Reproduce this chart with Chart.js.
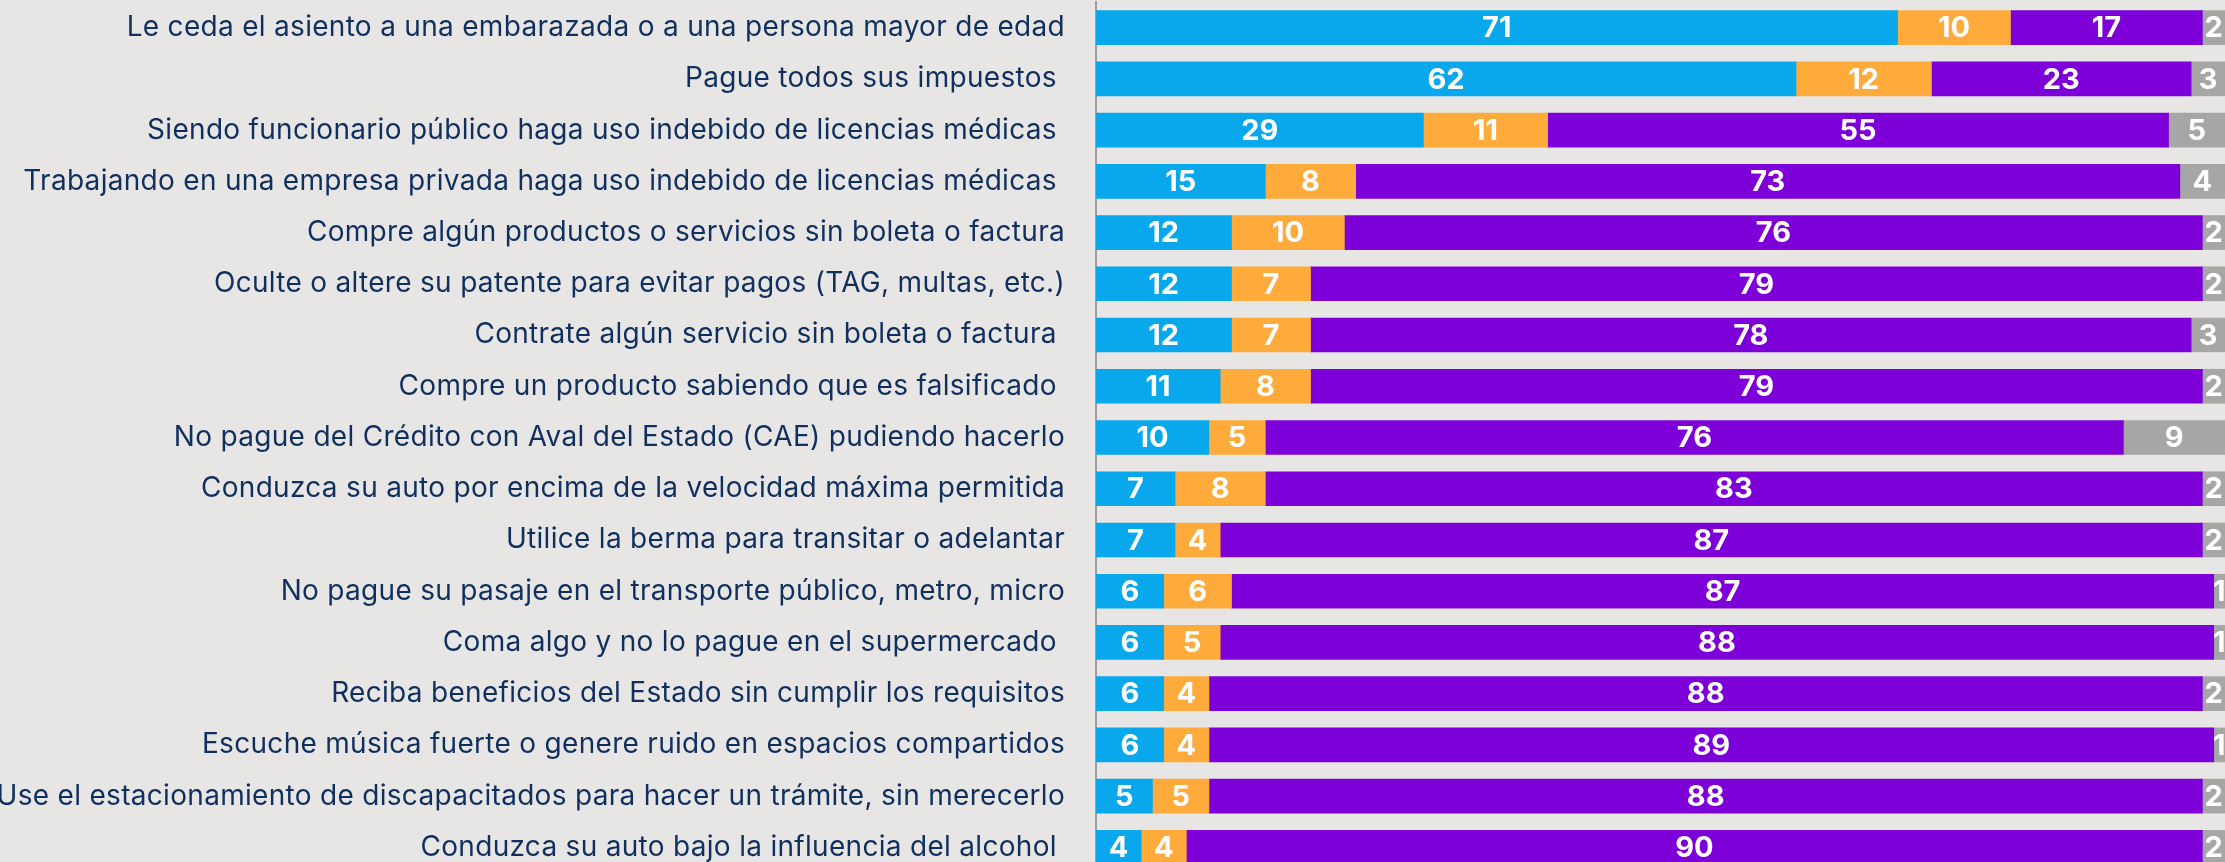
<!DOCTYPE html>
<html>
<head>
<meta charset="utf-8">
<script src="https://cdn.jsdelivr.net/npm/chart.js@4.4.1/dist/chart.umd.min.js"></script>
<style>
  html, body { margin: 0; padding: 0; background: #e8e6e4; overflow: hidden; }
  #wrap { position: relative; width: 2225px; height: 875px; }
</style>
</head>
<body>
<div id="wrap"><canvas id="myChart"></canvas></div>
<script>
  const labels = [
    'Le ceda el asiento a una embarazada o a una persona mayor de edad',
    'Pague todos sus impuestos ',
    'Siendo funcionario público haga uso indebido de licencias médicas ',
    'Trabajando en una empresa privada haga uso indebido de licencias médicas ',
    'Compre algún productos o servicios sin boleta o factura',
    'Oculte o altere su patente para evitar pagos (TAG, multas, etc.)',
    'Contrate algún servicio sin boleta o factura ',
    'Compre un producto sabiendo que es falsificado ',
    'No pague del Crédito con Aval del Estado (CAE) pudiendo hacerlo',
    'Conduzca su auto por encima de la velocidad máxima permitida',
    'Utilice la berma para transitar o adelantar',
    'No pague su pasaje en el transporte público, metro, micro',
    'Coma algo y no lo pague en el supermercado ',
    'Reciba beneficios del Estado sin cumplir los requisitos',
    'Escuche música fuerte o genere ruido en espacios compartidos',
    'Use el estacionamiento de discapacitados para hacer un trámite, sin merecerlo',
    'Conduzca su auto bajo la influencia del alcohol '
  ];

  const serieAzul    = [71, 62, 29, 15, 12, 12, 12, 11, 10, 7, 7, 6, 6, 6, 6, 5, 4];
  const serieNaranja = [10, 12, 11, 8, 10, 7, 7, 8, 5, 8, 4, 6, 5, 4, 4, 5, 4];
  const serieMorada  = [17, 23, 55, 73, 76, 79, 78, 79, 76, 83, 87, 87, 88, 88, 89, 88, 90];
  const serieGris    = [2, 3, 5, 4, 2, 2, 3, 2, 9, 2, 2, 1, 1, 2, 1, 2, 2];

  // un poco de espacio entre letras para las etiquetas del eje
  const espaciado = {
    id: 'espaciado',
    beforeDraw(chart) { chart.ctx.letterSpacing = '0.3px'; },
    beforeDatasetsDraw(chart) { chart.ctx.letterSpacing = '0px'; }
  };

  const etiquetasValor = {
    id: 'etiquetasValor',
    afterDatasetsDraw(chart) {
      const ctx = chart.ctx;
      ctx.save();
      ctx.fillStyle = '#ffffff';
      ctx.font = 'bold 29px Inter';
      ctx.textAlign = 'center';
      ctx.textBaseline = 'middle';
      chart.data.datasets.forEach((ds, i) => {
        const meta = chart.getDatasetMeta(i);
        meta.data.forEach((bar, j) => {
          const p = bar.getProps(['x', 'y', 'base'], true);
          ctx.fillText(ds.data[j], (p.x + p.base) / 2, p.y + 1);
        });
      });
      ctx.restore();
    }
  };

  const data = {
    labels: labels,
    datasets: [
      { label: 'azul', data: serieAzul, backgroundColor: '#09a7ec' },
      { label: 'naranja', data: serieNaranja, backgroundColor: '#ffab3b' },
      { label: 'morada', data: serieMorada, backgroundColor: '#7e00d8' },
      { label: 'gris', data: serieGris, backgroundColor: '#a6a6a6' }
    ]
  };

  const config = {
    type: 'bar',
    data: data,
    plugins: [espaciado, etiquetasValor],
    options: {
      indexAxis: 'y',
      responsive: true,
      maintainAspectRatio: false,
      devicePixelRatio: 1,
      animation: false,
      layout: { padding: { top: 2, bottom: 2, left: 0, right: 0 } },
      datasets: { bar: { barThickness: 34, borderWidth: 0 } },
      plugins: { legend: { display: false }, tooltip: { enabled: false } },
      scales: {
        x: { stacked: true, min: 0, max: 100, display: false },
        y: {
          stacked: true,
          afterFit(scale) {
            scale.width = 1096;
            scale.paddingTop = 0;
            scale.paddingBottom = 0;
          },
          grid: { display: false, drawTicks: false },
          border: { display: true, color: '#9e9e9e', width: 2 },
          ticks: {
            autoSkip: false,
            padding: 31,
            color: '#0f2f5f',
            font: { family: 'Inter', size: 28 }
          }
        }
      }
    }
  };

  const myChart = new Chart(document.getElementById('myChart'), config);
</script>
</body>
</html>
